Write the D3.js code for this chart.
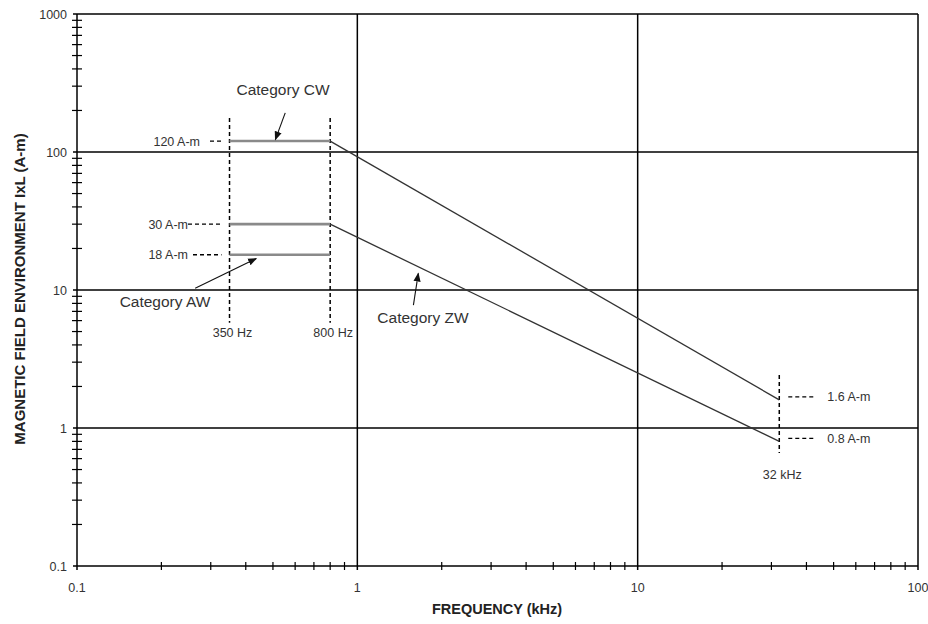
<!DOCTYPE html>
<html><head><meta charset="utf-8">
<script src="https://cdn.jsdelivr.net/npm/d3@7"></script>
<style>
body{margin:0;background:#fff;}
text{font-family:"Liberation Sans",Arial,sans-serif;}
</style></head>
<body><svg id="c" width="928" height="624"></svg>
<script>
// ---- data ----
const xMajorTicks = [0.1, 1, 10, 100];
const xTickLabels = ["0.1", "1", "10", "100"];
const yMajorTicks = [0.1, 1, 10, 100, 1000];
const yTickLabels = ["0.1", "1", "10", "100", "1000"];
const categories = ["Category CW", "Category ZW", "Category AW"];
const freqCW = [0.35, 0.8, 32];   // kHz
const valCW  = [120, 120, 1.6];   // A-m
const freqZW = [0.35, 0.8, 32];
const valZW  = [30, 30, 0.8];
const freqAW = [0.35, 0.8];
const valAW  = [18, 18];
const levelLabels = ["120 A-m", "30 A-m", "18 A-m"];
const levelValues = [120, 30, 18];
const rightLabels = ["1.6 A-m", "0.8 A-m"];
const rightValues = [1.6, 0.8];
const freqMarkers = [0.35, 0.8, 32];
const freqMarkerLabels = ["350 Hz", "800 Hz", "32 kHz"];
const freqMarkerSpan = [[176, 5.8], [176, 5.8], [2.42, 0.66]];
// arrow start / tip in data units (freq kHz, A-m)
const arrowFrom = [[0.553, 192], [1.585, 7.78], [0.264, 10.3]];
const arrowTo   = [[0.51, 123], [1.65, 13.2], [0.436, 16.9]];

const svg = d3.select("#c");
const x = d3.scaleLog().domain([0.1, 100]).range([77, 918]);
const y = d3.scaleLog().domain([0.1, 1000]).range([566, 14]);

// minor ticks
const minorX = [], minorY = [];
for (let d = 0.1; d < 100; d *= 10) for (let k = 2; k <= 9; k++) minorX.push(d * k);
for (let d = 0.1; d < 1000; d *= 10) for (let k = 2; k <= 9; k++) minorY.push(d * k);

const g = svg.append("g");
// gridlines
g.selectAll(".gx").data(xMajorTicks.slice(1)).join("line")
  .attr("x1", d => x(d)).attr("x2", d => x(d)).attr("y1", y(1000)).attr("y2", y(0.1) + 4)
  .attr("stroke", "#000").attr("stroke-width", 1.5);
g.selectAll(".gy").data(yMajorTicks.slice(1)).join("line")
  .attr("x1", x(0.1) - 4).attr("x2", x(100)).attr("y1", d => y(d)).attr("y2", d => y(d))
  .attr("stroke", "#000").attr("stroke-width", 1.5);
// axes lines
g.append("line").attr("x1", x(0.1)).attr("x2", x(0.1)).attr("y1", y(1000)).attr("y2", y(0.1) + 4)
  .attr("stroke", "#000").attr("stroke-width", 1.5);
g.append("line").attr("x1", x(0.1) - 4).attr("x2", x(100)).attr("y1", y(0.1)).attr("y2", y(0.1))
  .attr("stroke", "#000").attr("stroke-width", 1.5);
// minor ticks
g.selectAll(".mx").data(minorX).join("line")
  .attr("x1", d => x(d)).attr("x2", d => x(d)).attr("y1", y(0.1) - 4).attr("y2", y(0.1) + 4)
  .attr("stroke", "#000").attr("stroke-width", 1.2);
g.selectAll(".my").data(minorY).join("line")
  .attr("x1", x(0.1) - 5).attr("x2", x(0.1) + 5).attr("y1", d => y(d)).attr("y2", d => y(d))
  .attr("stroke", "#000").attr("stroke-width", 1.2);

// tick labels
g.selectAll(".tx").data(xMajorTicks).join("text")
  .attr("x", d => x(d)).attr("y", 592).attr("text-anchor", "middle")
  .attr("font-size", 12.5).attr("fill", "#333").text((d, i) => xTickLabels[i]);
g.selectAll(".ty").data(yMajorTicks).join("text")
  .attr("x", 67).attr("y", d => y(d) + 4.5).attr("text-anchor", "end")
  .attr("font-size", 12.5).attr("fill", "#333").text((d, i) => yTickLabels[i]);

// axis titles
svg.append("text").attr("x", 497).attr("y", 614).attr("text-anchor", "middle")
  .attr("font-size", 14.5).attr("font-weight", "bold").attr("fill", "#222").text("FREQUENCY (kHz)");
svg.append("text").attr("transform", "translate(25,289) rotate(-90)").attr("text-anchor", "middle")
  .attr("font-size", 15).attr("font-weight", "bold").attr("fill", "#222")
  .text("MAGNETIC FIELD ENVIRONMENT IxL (A-m)");

// frequency marker dashed lines
g.selectAll(".fm").data(freqMarkers).join("line")
  .attr("x1", d => x(d)).attr("x2", d => x(d))
  .attr("y1", (d, i) => y(freqMarkerSpan[i][0])).attr("y2", (d, i) => y(freqMarkerSpan[i][1]))
  .attr("stroke", "#000").attr("stroke-width", 1.5).attr("stroke-dasharray", "4,3");
g.selectAll(".fml").data(freqMarkers).join("text")
  .attr("x", d => x(d) + 3).attr("y", (d, i) => y(freqMarkerSpan[i][1]) + (i < 2 ? 14 : 26))
  .attr("text-anchor", "middle").attr("font-size", 12.5).attr("fill", "#333")
  .text((d, i) => freqMarkerLabels[i]);

// series
const line = d3.line().x(d => x(d[0])).y(d => y(d[1]));
function drawSeries(fs, vs) {
  const pts = fs.map((f, i) => [f, vs[i]]);
  for (let i = 0; i < pts.length - 1; i++) {
    const flat = pts[i][1] === pts[i + 1][1];
    g.append("path").attr("d", line([pts[i], pts[i + 1]])).attr("fill", "none")
      .attr("stroke", flat ? "#8a8a8a" : "#333").attr("stroke-width", flat ? 2.6 : 1.3);
  }
}
drawSeries(freqCW, valCW);
drawSeries(freqZW, valZW);
drawSeries(freqAW, valAW);

// left level labels with dashed leaders
const labelEnd = [200, 188, 188];
const leaderStart = [210, 188, 193];
g.selectAll(".ll").data(levelValues).join("text")
  .attr("x", (d, i) => labelEnd[i]).attr("y", d => y(d) + 4.5).attr("text-anchor", "end")
  .attr("font-size", 12.5).attr("fill", "#333").text((d, i) => levelLabels[i]);
g.selectAll(".lld").data(levelValues).join("line")
  .attr("x1", (d, i) => leaderStart[i]).attr("x2", x(0.35) - 8)
  .attr("y1", d => y(d)).attr("y2", d => y(d))
  .attr("stroke", "#000").attr("stroke-width", 1.3).attr("stroke-dasharray", "4,3");
// right labels
g.selectAll(".rld").data(rightValues).join("line")
  .attr("x1", x(32) + 9).attr("x2", x(32) + 36)
  .attr("y1", d => y(d) - 3).attr("y2", d => y(d) - 3)
  .attr("stroke", "#000").attr("stroke-width", 1.3).attr("stroke-dasharray", "4,3");
g.selectAll(".rl").data(rightValues).join("text")
  .attr("x", x(32) + 48).attr("y", d => y(d) + 1.5)
  .attr("font-size", 12.5).attr("fill", "#333").text((d, i) => rightLabels[i]);

// category labels and arrows
svg.append("defs").append("marker").attr("id", "ah").attr("viewBox", "0 0 10 10")
  .attr("refX", 9).attr("refY", 5).attr("markerWidth", 9).attr("markerHeight", 9)
  .attr("markerUnits", "userSpaceOnUse").attr("orient", "auto")
  .append("path").attr("d", "M0,1 L10,5 L0,9 Z").attr("fill", "#111");
const catPos = [[283, 95], [423, 323], [165, 307]];
svg.selectAll(".cl").data(categories).join("text")
  .attr("x", (d, i) => catPos[i][0]).attr("y", (d, i) => catPos[i][1])
  .attr("text-anchor", "middle").attr("font-size", 15.5).attr("fill", "#333").text(d => d);
svg.selectAll(".ar").data(arrowFrom).join("line")
  .attr("x1", d => x(d[0])).attr("y1", d => y(d[1]))
  .attr("x2", (d, i) => x(arrowTo[i][0])).attr("y2", (d, i) => y(arrowTo[i][1]))
  .attr("stroke", "#111").attr("stroke-width", 1.1).attr("marker-end", "url(#ah)");
</script></body></html>
